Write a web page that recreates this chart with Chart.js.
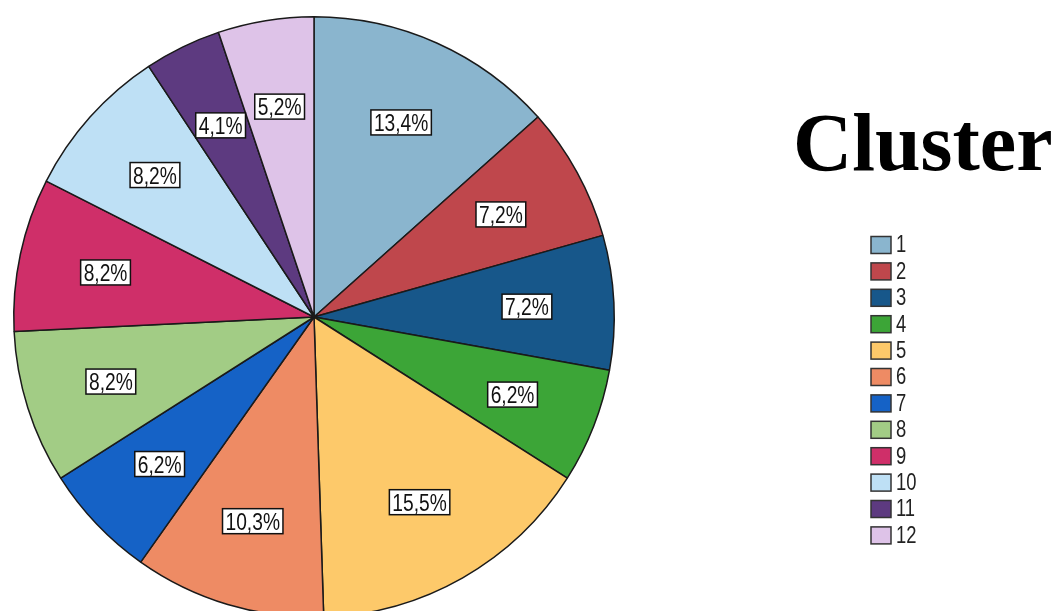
<!DOCTYPE html>
<html>
<head>
<meta charset="utf-8">
<script src="https://cdn.jsdelivr.net/npm/chart.js@4/dist/chart.umd.min.js"></script>
<style>
html,body{margin:0;padding:0;background:#fff;overflow:hidden;}
#wrap{position:relative;width:1056px;height:640px;}
</style>
</head>
<body>
<div id="wrap"><canvas id="c" width="1056" height="640"></canvas></div>
<script>
const categories = ['1','2','3','4','5','6','7','8','9','10','11','12'];
const counts = [13, 7, 7, 6, 15, 10, 6, 8, 8, 8, 4, 5];
const percentLabels = ['13,4%','7,2%','7,2%','6,2%','15,5%','10,3%','6,2%','8,2%','8,2%','8,2%','4,1%','5,2%'];
const colors = ['#8AB5CE','#BF474C','#17578A','#3CA537','#FDC96A','#EE8B64','#1562C6','#A2CC85','#CF2F69','#BEE0F5','#5D3A80','#DEC3E8'];
const titleText = 'Cluster';

const sliceLabels = {
  id: 'sliceLabels',
  afterDatasetsDraw(chart) {
    const ctx = chart.ctx;
    const meta = chart.getDatasetMeta(0);
    meta.data.forEach((arc, i) => {
      const p = arc.getProps(['x','y','startAngle','endAngle','outerRadius'], true);
      const mid = (p.startAngle + p.endAngle) / 2;
      const r = p.outerRadius * 0.71;
      const cx = p.x + Math.cos(mid) * r;
      const cy = p.y + Math.sin(mid) * r;
      const txt = percentLabels[i];
      ctx.save();
      ctx.font = '24px "Liberation Sans", Arial, sans-serif';
      const sx = 0.8;
      const w = ctx.measureText(txt).width * sx + 6;
      const h = 25;
      ctx.fillStyle = '#fff';
      ctx.fillRect(cx - w/2, cy - h/2, w, h);
      ctx.strokeStyle = '#111';
      ctx.lineWidth = 1.5;
      ctx.strokeRect(cx - w/2, cy - h/2, w, h);
      ctx.translate(cx, cy + 1);
      ctx.scale(sx, 1);
      ctx.fillStyle = '#111';
      ctx.textAlign = 'center';
      ctx.textBaseline = 'middle';
      ctx.fillText(txt, 0, 1);
      ctx.restore();
    });
  }
};

const sideLegend = {
  id: 'sideLegend',
  afterDraw(chart) {
    const ctx = chart.ctx;
    ctx.save();
    ctx.fillStyle = '#000';
    ctx.font = 'bold 82px "Liberation Serif", "Times New Roman", serif';
    ctx.textBaseline = 'alphabetic';
    ctx.textAlign = 'left';
    ctx.fillText(titleText, 793, 170);
    const labels = chart.data.labels;
    const bg = chart.data.datasets[0].backgroundColor;
    const x0 = 871, y0 = 245, step = 26.4;
    labels.forEach((lab, i) => {
      const y = y0 + i * step;
      ctx.fillStyle = bg[i];
      ctx.fillRect(x0, y - 8.5, 20, 17);
      ctx.strokeStyle = '#333';
      ctx.lineWidth = 1.5;
      ctx.strokeRect(x0, y - 8.5, 20, 17);
      ctx.save();
      ctx.translate(x0 + 25, y + 1);
      ctx.scale(0.8, 1);
      ctx.fillStyle = '#222';
      ctx.font = '23px "Liberation Sans", Arial, sans-serif';
      ctx.textBaseline = 'middle';
      ctx.fillText(lab, 0, 0);
      ctx.restore();
    });
    ctx.restore();
  }
};

new Chart(document.getElementById('c'), {
  type: 'pie',
  data: {
    labels: categories,
    datasets: [{
      data: counts,
      backgroundColor: colors,
      borderColor: '#1a1a1a',
      borderWidth: 1.5
    }]
  },
  options: {
    responsive: false,
    animation: false,
    layout: { padding: { left: 13, top: 16, right: 441, bottom: 22 } },
    plugins: { legend: { display: false }, tooltip: { enabled: false }, title: { display: false } }
  },
  plugins: [sliceLabels, sideLegend]
});
</script>
</body>
</html>
